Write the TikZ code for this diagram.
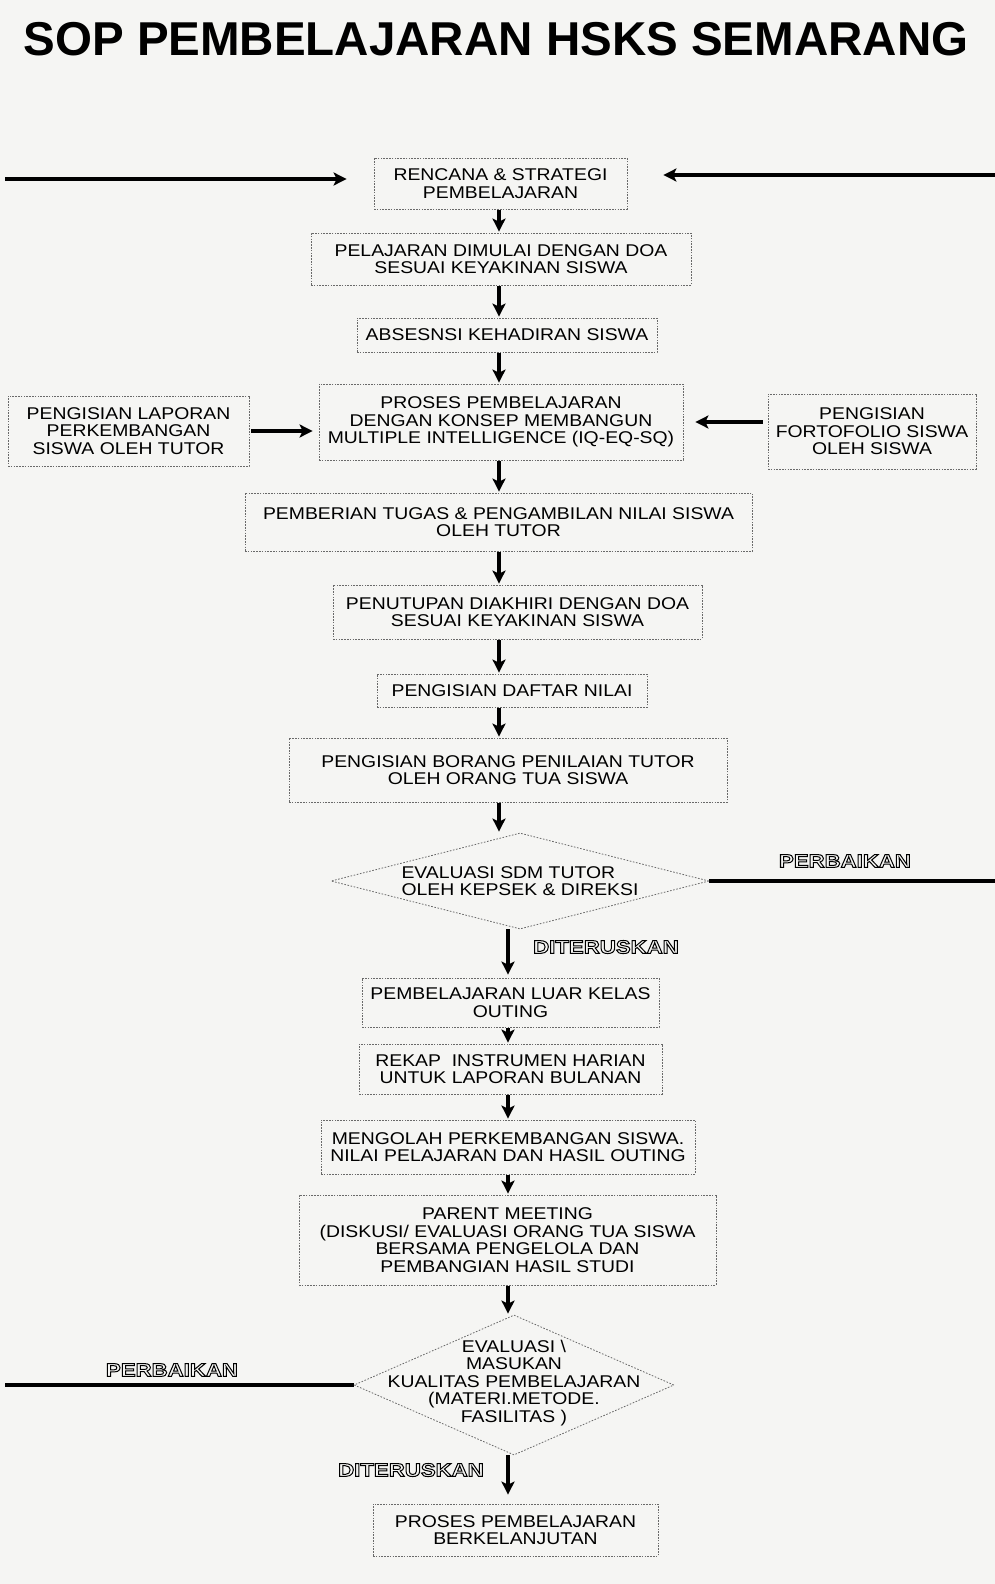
\documentclass[tikz,border=0pt]{standalone}
\usepackage{fontspec}
\setmainfont{Liberation Sans}
\newfontfamily\boxfont{Liberation Sans}[FakeStretch=1.14]
\newfontfamily\labfont{Liberation Sans}[FakeStretch=1.2]
\usetikzlibrary{arrows.meta,shapes.geometric}
\definecolor{paper}{RGB}{245,245,243}
\definecolor{edge}{RGB}{105,105,105}
\newcommand{\hollowtext}[1]{\special{pdf:literal 1 Tr 1.0 w}#1\special{pdf:literal 0 Tr}}
\newcommand{\dtext}[3]{\smash{\makebox[0pt]{\raisebox{#1}{\begin{tabular}{@{}#2@{}}#3\end{tabular}}}}}
\begin{document}
\begin{tikzpicture}[x=1pt,y=-1pt,
  stepbox/.style={draw=edge, line width=0.8pt, dash pattern=on 1.6pt off 1.2pt,
    inner sep=0pt, align=center, font=\boxfont\fontsize{17}{17.5}\selectfont},
  decide/.style={diamond, draw=edge, line width=0.8pt, dash pattern=on 1.6pt off 1.6pt,
    inner sep=0pt, font=\boxfont\fontsize{17}{17.5}\selectfont},
  arr/.style={line width=3.4pt, -{Stealth[length=13pt,width=13pt,inset=3pt]}},
  fb/.style={line width=3.4pt},
  tag/.style={font=\labfont\bfseries\fontsize{18.5}{20}\selectfont, inner sep=0pt}
]
\fill[paper] (0,0) rectangle (995,1584);
\useasboundingbox (0,0) rectangle (995,1584);

% title
\node[font=\bfseries\fontsize{47.5}{50}\selectfont, inner sep=0pt] (title) at (496,39)
  {SOP PEMBELAJARAN HSKS SEMARANG};

% boxes
\node[stepbox, minimum width=253, minimum height=51] (rencana) at (500.5,183.5)
  {RENCANA \& STRATEGI\\PEMBELAJARAN};
\node[stepbox, minimum width=380, minimum height=52] (pelajaran) at (501,259)
  {PELAJARAN DIMULAI DENGAN DOA\\SESUAI KEYAKINAN SISWA};
\node[stepbox, minimum width=300, minimum height=34] (absen) at (507,335)
  {ABSESNSI KEHADIRAN SISWA};
\node[stepbox, minimum width=364, minimum height=76] (proses) at (501,422)
  {PROSES PEMBELAJARAN\\DENGAN KONSEP MEMBANGUN\\MULTIPLE INTELLIGENCE (IQ-EQ-SQ)};
\node[stepbox, minimum width=241, minimum height=70] (laporan) at (128.5,431)
  {PENGISIAN LAPORAN\\PERKEMBANGAN\\SISWA OLEH TUTOR};
\node[stepbox, minimum width=208, minimum height=75] (porto) at (872,431.5)
  {PENGISIAN\\FORTOFOLIO SISWA\\OLEH SISWA};
\node[stepbox, minimum width=507, minimum height=58] (tugas) at (498.5,522)
  {PEMBERIAN TUGAS \& PENGAMBILAN NILAI SISWA\\OLEH TUTOR};
\node[stepbox, minimum width=369, minimum height=54] (penutupan) at (517.5,612)
  {PENUTUPAN DIAKHIRI DENGAN DOA\\SESUAI KEYAKINAN SISWA};
\node[stepbox, minimum width=270, minimum height=33] (daftar) at (512,690.5)
  {PENGISIAN DAFTAR NILAI};
\node[stepbox, minimum width=438, minimum height=64] (borang) at (508,770)
  {PENGISIAN BORANG PENILAIAN TUTOR\\OLEH ORANG TUA SISWA};
\node[decide, minimum width=378, minimum height=96] (d1) at (520,881)
  {\dtext{-7pt}{l}{EVALUASI SDM TUTOR\\OLEH KEPSEK \& DIREKSI}};
\node[stepbox, minimum width=297, minimum height=49] (outing) at (510.5,1002.5)
  {PEMBELAJARAN LUAR KELAS\\OUTING};
\node[stepbox, minimum width=303, minimum height=50] (rekap) at (510.5,1069)
  {REKAP\ \ INSTRUMEN HARIAN\\UNTUK LAPORAN BULANAN};
\node[stepbox, minimum width=374, minimum height=54] (olah) at (508,1147)
  {MENGOLAH PERKEMBANGAN SISWA.\\NILAI PELAJARAN DAN HASIL OUTING};
\node[stepbox, minimum width=417, minimum height=90] (parent) at (507.5,1240)
  {PARENT MEETING\\(DISKUSI/ EVALUASI ORANG TUA SISWA\\BERSAMA PENGELOLA DAN\\PEMBANGIAN HASIL STUDI};
\node[decide, minimum width=320, minimum height=140] (d2) at (514,1385)
  {\dtext{-3pt}{c}{EVALUASI \textbackslash\\MASUKAN\\KUALITAS PEMBELAJARAN\\(MATERI.METODE.\\FASILITAS )}};
\node[stepbox, minimum width=285, minimum height=52] (final) at (515.5,1530)
  {PROSES PEMBELAJARAN\\BERKELANJUTAN};

% helper coordinates
\coordinate (sp1) at (499,0);
\coordinate (sp2) at (508,0);
\coordinate (tl) at (5,179);
\coordinate (tr) at (995,175);
\coordinate (redge) at (995,0);
\coordinate (ledge) at (5,0);

% top feedback arrows
\draw[arr, shorten >=27pt] (tl) -- (rencana.west |- tl);
\draw[arr, shorten >=36pt] (tr) -- (rencana.east |- tr);

% side arrows
\draw[arr, shorten <=2pt, shorten >=6pt] (laporan.east) -- (proses.west |- laporan.east);
\draw[arr, shorten <=5pt, shorten >=12pt] (porto.west |- proses.east) -- (proses.east);

% main flow
\draw[arr, shorten <=1pt, shorten >=1pt] (rencana.south -| sp1) -- (pelajaran.north -| sp1);
\draw[arr, shorten <=1pt, shorten >=1pt] (pelajaran.south -| sp1) -- (absen.north -| sp1);
\draw[arr, shorten <=1pt, shorten >=1pt] (absen.south -| sp1) -- (proses.north -| sp1);
\draw[arr, shorten <=1pt, shorten >=1pt] (proses.south -| sp1) -- (tugas.north -| sp1);
\draw[arr, shorten <=1pt, shorten >=1pt] (tugas.south -| sp1) -- (penutupan.north -| sp1);
\draw[arr, shorten <=1pt, shorten >=1pt] (penutupan.south -| sp1) -- (daftar.north -| sp1);
\draw[arr, shorten <=1pt, shorten >=1pt] (daftar.south -| sp1) -- (borang.north -| sp1);
\draw[arr, shorten <=1pt, shorten >=1pt] (borang.south -| sp1) -- (d1.north -| sp1);
\draw[arr, shorten <=0pt, shorten >=3pt] (d1.south -| sp2) -- (outing.north -| sp2);
\draw[arr, shorten <=1pt, shorten >=1pt] (outing.south -| sp2) -- (rekap.north -| sp2);
\draw[arr, shorten <=1pt, shorten >=1pt] (rekap.south -| sp2) -- (olah.north -| sp2);
\draw[arr, shorten <=1pt, shorten >=1pt] (olah.south -| sp2) -- (parent.north -| sp2);
\draw[arr, shorten <=1pt, shorten >=1pt] (parent.south -| sp2) -- (d2.north -| sp2);
\draw[arr, shorten <=0pt, shorten >=9pt] (d2.south -| sp2) -- (final.north -| sp2);

% feedback lines from decisions
\draw[fb] (d1.east) -- (d1.east -| redge);
\draw[fb] (ledge |- d2.west) -- (d2.west);

% outlined labels
\node[tag] (perb1) at (845,861) {\hollowtext{PERBAIKAN}};
\node[tag] (ters1) at (606,947) {\hollowtext{DITERUSKAN}};
\node[tag] (perb2) at (172,1370) {\hollowtext{PERBAIKAN}};
\node[tag] (ters2) at (411,1470) {\hollowtext{DITERUSKAN}};
\end{tikzpicture}
\end{document}
